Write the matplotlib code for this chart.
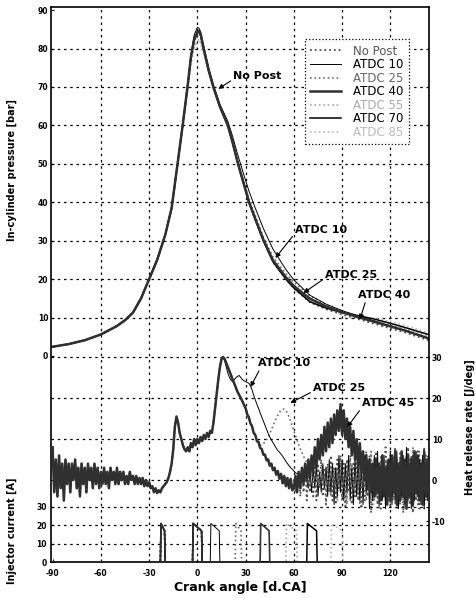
"""
In-cylinder pressure, heat release rate and injector current vs crank angle
for the no-post and post-injection (ATDC 10 ... 85) cases.
"""

import numpy as np
import matplotlib
matplotlib.use("Agg")
import matplotlib.pyplot as plt

# ---------------------------------------------------------------- data
case_labels = ['No Post', 'ATDC 10', 'ATDC 25', 'ATDC 40', 'ATDC 55', 'ATDC 70', 'ATDC 85']

# pressure [bar]
p_angle = [-90, -80, -70, -60, -50, -45, -40, -35, -30, -25, -20, -16, -12, -9,
           -6, -4, -2, 0, 1, 2, 4, 7, 10, 14, 19, 22, 25, 29, 32, 36, 41, 47,
           55, 60, 70, 80, 90, 100, 110, 120, 130, 145]
p_compression = [2.4, 3.1, 4.1, 5.6, 7.8, 9.3, 11.3, 15.0, 20.0, 25.0, 31.5, 38.5, 51.0, 60.5]
p_nopost = [70.5, 78.0, 82.5, 84.5, 84.8, 84.0, 80.0, 74.5, 70.0, 65.0, 60.0, 55.5, 50.5, 44.5,
            40.0, 35.5, 30.0, 24.5, 20.0, 17.6, 14.0, 12.2, 10.8, 9.6, 8.4, 7.2, 6.0, 3.9]
p_atdc10 = [70.8, 78.5, 83.5, 85.5, 85.3, 84.3, 80.5, 75.0, 70.5, 65.5, 61.0, 57.0, 52.5, 47.0,
            43.0, 38.5, 33.2, 27.8, 22.5, 19.8, 15.8, 13.5, 11.8, 10.4, 9.1, 7.8, 6.5, 4.4]
p_atdc25 = [70.2, 77.5, 81.8, 83.5, 84.0, 83.2, 79.5, 74.2, 69.8, 65.0, 60.0, 55.6, 50.8, 45.2,
            41.0, 36.5, 31.0, 25.8, 21.4, 19.2, 15.6, 13.3, 11.7, 10.4, 9.1, 7.9, 6.6, 4.5]
p_atdc40 = [70.5, 77.8, 82.3, 84.2, 84.6, 83.8, 79.8, 74.4, 69.9, 64.9, 59.9, 55.4, 50.4, 44.6,
            40.2, 35.7, 30.3, 24.9, 20.5, 18.2, 14.9, 12.9, 11.4, 10.1, 8.9, 7.7, 6.5, 4.4]
p_atdc55 = [69.5, 76.5, 80.5, 82.0, 82.3, 82.0, 79.0, 74.0, 69.6, 64.8, 59.8, 55.3, 50.3, 44.4,
            39.9, 35.4, 30.0, 24.5, 20.1, 17.8, 14.4, 12.8, 11.5, 10.3, 9.2, 8.1, 6.9, 5.0]
p_atdc70 = [70.3, 77.8, 82.2, 84.0, 84.3, 83.5, 79.7, 74.3, 69.9, 64.9, 59.9, 55.4, 50.4, 44.5,
            40.0, 35.5, 30.0, 24.5, 20.0, 17.7, 14.1, 12.5, 11.3, 10.5, 9.6, 8.5, 7.3, 5.4]
p_atdc85 = [69.2, 76.0, 80.0, 81.5, 81.8, 81.7, 78.5, 73.8, 69.5, 64.7, 59.8, 55.3, 50.3, 44.4,
            39.9, 35.4, 30.0, 24.5, 20.0, 17.6, 14.0, 12.2, 11.0, 10.2, 9.8, 9.0, 7.8, 5.9]

# heat release rate [J/deg], one value per degree from -90 to 145
hrr_angle = np.arange(-90, 146)
hrr_nopost = [
    8, -3, 5, -4, 6, -2, 4, -5, 5, -1, 4,                                   # -90..-80
    -3, 4, 0, 5, -2, 3, -4, 4, -1, 3, -3, 4, 0, 3, -2, 4, -1, 3, -2, 2,      # -79..-60
    -1, 3, -1, 2, -2, 3, 0, 2, -1, 3, -1, 2, 0, 2, -1, 1, -1, 2, 0, 1,       # -59..-40
    -1, 1, -1, 0.5, -1, 0.5, -1.5, 0, -1.5, -0.5,                            # -39..-30
    -2, -1.5, -3, -2, -3.2, -2.5, -3, -2, -1.5, -1,                          # -29..-20
    -0.5, 0.5, 2, 4, 7.5, 13, 15.5,                                          # -19..-13
    14, 11.5, 10, 8.5, 7.5, 7,                                               # -12..-7
    8, 7, 9, 8, 10, 8.5, 10, 9, 10.5, 9.5, 11, 10, 11.5, 10.5, 12, 11.5,     # -6..9
    14, 17.5, 21, 24.5, 27.5, 29.5, 30,                                      # 10..16
    29.5, 28.5, 27.5, 26.5, 25.5, 24.4, 23.5, 22.5, 21.5, 20.7, 20, 19.2, 18.3,
    17.5, 16, 15.3, 13.8, 13.1, 11.5, 11, 9.5, 9.3, 7.8, 7.6, 6.2, 6.2, 4.8, 5,
    3.5, 4, 2.4, 3, 1.3, 2.2, 0.3, 1.5, -0.8, 1, -1.5, 0.5, -2, 0.3, -2.5, 0,
    -3, 0.5,                                                                 # 17..62
    2, -4, 3, -3, 4, -5, 2, -3, 5, -4, 3, -5, 4, -2, 5, -4, 3, -6,           # 63..80
    4, -3, 6, -5, 3, -6, 5, -2, 6, -5, 4, -7, 5, -3, 6, -6, 4, -4, 7, -5,    # 81..100
    5, -7, 3, -5, 7, -4, 6, -8, 4, -5, 7, -6, 3, -7, 6, -4, 8, -6, 5, -7,    # 101..120
    6, -5, 8, -7, 4, -6, 7, -8, 5, -4, 8, -6, 6, -8, 4, -5, 7, -7, 5, -6,
    8, -5, 6, -7, 5,                                                         # 121..145
]
# post cases follow No Post until they split off
hrr_atdc10_from = 17
hrr_atdc10_tail = [
    29, 27.5, 26, 25, 24.3, 24, 24.5, 25, 25.3, 25.5, 25, 24.5, 24.2, 24, 23.8,
    23.6, 23, 22, 20.7, 19.6, 18.5, 17.5, 16.4, 15.4, 14.4, 13.4, 12.4, 11.4,
    10.5, 9.8, 9.1, 8.5, 7.8, 7.2, 6.8, 6.3, 5.8, 5.2, 4.6, 4, 3.5, 3, 2.6, 2.2,
    1.8, 1.5, 1.1, 0.8, 0.5, 0.2, 0, -0.3,                                   # 17..68
    -2, 2, -3, 3, -2, 4, -4, 2, -3, 4, -2, 3,                                # 69..80
    -4, 5, -3, 4, -6, 3, -4, 6, -3, 5, -5, 4, -3, 6, -5, 3, -6, 5, -4, 6,    # 81..100
    -5, 4, -6, 6, -3, 5, -7, 4, -5, 6, -4, 7, -6, 3, -5, 6, -7, 5, -4, 7,    # 101..120
    -6, 4, -5, 7, -7, 5, -4, 6, -6, 8, -5, 4, -7, 6, -5, 7, -4, 5, -6, 6,
    -7, 4, -5, 6, -4,                                                        # 121..145
]
hrr_atdc25_from = 38
hrr_atdc25_tail = [
    8.8, 8.5, 8.5, 8.8, 9.3, 9.8, 10.5, 11.3, 12.2, 13.2, 14.2, 15, 15.8, 16.5,
    17, 17.2, 17.3, 17, 16.3, 15.4, 14.3, 13.2, 12, 10.8, 9.7, 8.6, 7.6, 6.7,
    5.8, 5, 4.3, 3.6, 3, 2.4, 1.9, 1.4, 1, 0.6, 0.2, 0,                      # 38..77
    2, -2, 3, -3, 2, -4, 4, -2, 3, -5, 5, -3, 4, -4, 3, -6, 5, -2, 4, -5,
    6, -3, 4,                                                                # 78..100
    -6, 3, -4, 6, -5, 4, -3, 7, -6, 5, -4, 3, -7, 6, -4, 5, -6, 4, -5, 7,    # 101..120
    -4, 6, -6, 5, -3, 7, -5, 4, -7, 6, -4, 5, -6, 8, -5, 3, -6, 7, -4, 5,
    -7, 6, -3, 5, -6,                                                        # 121..145
]
hrr_atdc40_from = 60
hrr_atdc40_tail = [
    -2, 1, -3, 2, -2, 3, -1, 4, 0, 5,
    1, 6, 2, 8, 3, 10, 5, 11, 6, 13,
    7, 14, 8, 15, 9, 16, 11, 17, 12, 18.5,
    11, 17, 10, 15, 8, 13, 6, 12, 5, 10,
    3, 9, 2, 7, 0, 6, -2, 5, -3, 4,
    -4, 5, -3, 4, -5, 6, -4, 3, -6, 5,
    -5, 6, -3, 7, -6, 4, -5, 7, -4, 5,
    -7, 6, -4, 5, -6, 7, -3, 6, -5, 4,
    -6, 7, -4, 5, -5, 3,
]

# injector current [A]: pulse start / end crank angles
pilot_pulse = (-23, -20)
main_pulse = (-3, 3)
post_start = [None, 8, 23.5, 39, 55, 68, 83]
post_end = [None, 14, 27.5, 45, 62, 74.5, 90.5]
inj_peak = 21
inj_hold = 17

x_ticks = [-90, -60, -30, 0, 30, 60, 90, 120]
p_ticks = [0, 10, 20, 30, 40, 50, 60, 70, 80, 90]
hrr_ticks = [-10, 0, 10, 20, 30]
inj_ticks = [0, 10, 20, 30]

# line styles per case (grayscale like the scanned figure)
styles = [
    dict(color='#4d4d4d', ls=':', lw=1.3),
    dict(color='black', ls='-', lw=0.7),
    dict(color='#707070', ls=':', lw=1.2),
    dict(color='#303030', ls='-', lw=1.8),
    dict(color='#a8a8a8', ls=':', lw=1.2),
    dict(color='black', ls='-', lw=1.1),
    dict(color='#b8b8b8', ls=':', lw=1.2),
]
text_colors = ['#555555', 'black', '#666666', 'black', '#aaaaaa', 'black', '#bbbbbb']

GRID = dict(color='black', lw=0.9, ls=(0, (2, 3)), zorder=0.5)
TICKFONT = dict(fontsize=5.5, fontweight='bold')


def injector_trace(pulses):
    """Step-like injector current trace from (start, end) pulse list."""
    xs, ys = [-91], [0]
    for s, e in pulses:
        xs += [s, s + 0.4, e - 0.4, e]
        ys += [0, inj_peak, inj_hold, 0]
    xs.append(145)
    ys.append(0)
    return xs, ys


def main():
    fig = plt.figure(figsize=(4.76, 5.98), dpi=100)
    rect = [51 / 476, 36 / 598, 378 / 476, 555 / 598]

    ax_p = fig.add_axes(rect)
    ax_h = fig.add_axes(rect, sharex=ax_p, frameon=False)
    ax_i = fig.add_axes(rect, sharex=ax_p, frameon=False)
    for ax in (ax_h, ax_i):
        ax.patch.set_visible(False)
        ax.xaxis.set_visible(False)

    ax_p.set_xlim(-91, 144)
    ax_p.set_ylim(-53.6, 90.8)
    ax_h.set_ylim(-20, 115.4)
    ax_i.set_ylim(0, 302.7)

    # grid
    for xv in x_ticks[1:]:
        ax_p.axvline(xv, **GRID)
    for pv in p_ticks[1:-1]:
        ax_p.axhline(pv, **GRID)
    for hv in hrr_ticks[1:]:
        ax_h.axhline(hv, **GRID)
    for iv in inj_ticks[1:]:
        ax_i.axhline(iv, **GRID)

    # pressure
    p_cases = [p_nopost, p_atdc10, p_atdc25, p_atdc40, p_atdc55, p_atdc70, p_atdc85]
    lines = {}
    for k in [6, 4, 2, 0, 5, 1, 3]:
        ln, = ax_p.plot(p_angle, p_compression + p_cases[k], **styles[k], zorder=2)
        lines[k] = ln
    handles = [lines[k] for k in range(len(case_labels))]

    # heat release rate
    def with_tail(start, tail):
        idx = start - hrr_angle[0]
        return hrr_nopost[:idx] + tail

    hrr_cases = {
        0: hrr_nopost,
        1: with_tail(hrr_atdc10_from, hrr_atdc10_tail),
        2: with_tail(hrr_atdc25_from, hrr_atdc25_tail),
        3: with_tail(hrr_atdc40_from, hrr_atdc40_tail),
    }
    for k in [2, 1, 0, 3]:
        vals = hrr_cases[k]
        ax_h.plot(hrr_angle[:len(vals)], vals, **styles[k], zorder=2)

    # injector current
    for k in [6, 4, 2, 0, 5, 1, 3]:
        pulses = [pilot_pulse, main_pulse]
        if post_start[k] is not None:
            pulses.append((post_start[k], post_end[k]))
        xs, ys = injector_trace(pulses)
        st = dict(styles[k])
        st['lw'] = min(st['lw'], 1.2)
        ax_i.plot(xs, ys, **st, zorder=2)

    # axes / ticks
    for sp in ax_p.spines.values():
        sp.set_linewidth(1.2)
    ax_p.set_xticks(x_ticks)
    ax_p.set_xticklabels([str(v) for v in x_ticks], **TICKFONT)
    ax_p.set_yticks(p_ticks)
    ax_p.set_yticklabels([str(v) for v in p_ticks], **TICKFONT)
    ax_p.tick_params(direction='in', length=2.5, width=0.8, pad=2)
    ax_p.tick_params(axis='x', pad=5)

    ax_h.yaxis.tick_right()
    ax_h.set_yticks(hrr_ticks)
    ax_h.set_yticklabels([str(v) for v in hrr_ticks], **TICKFONT)
    ax_h.tick_params(axis='y', direction='in', length=2.5, width=0.8, pad=2)

    ax_i.set_yticks(inj_ticks)
    ax_i.set_yticklabels([str(v) for v in inj_ticks], **TICKFONT)
    ax_i.tick_params(axis='y', direction='in', length=2.5, width=0.8, pad=3)

    # axis titles
    lab = dict(fontweight='bold', ha='center', va='center')
    fig.text(12 / 476, 1 - 170 / 598, 'In-cylinder pressure [bar]', rotation=90, fontsize=7, **lab)
    fig.text(12 / 476, 1 - 531 / 598, 'Injector current [A]', rotation=90, fontsize=7, **lab)
    fig.text(470 / 476, 1 - 427 / 598, 'Heat release rate [J/deg]', rotation=90, fontsize=7, **lab)
    fig.text(240 / 476, 1 - 588 / 598, 'Crank angle [d.CA]', fontsize=9, **lab)

    # annotations
    arrow = dict(arrowstyle='-|>', color='black', lw=0.8, mutation_scale=7,
                 shrinkA=0, shrinkB=0)
    note = dict(fontsize=8, fontweight='bold', ha='left', va='center')
    ax_p.annotate('No Post', xy=(13, 69.5), xytext=(22.4, 72.8),
                  arrowprops=dict(arrow, relpos=(0, 0.2)), **note)
    ax_p.annotate('ATDC 10', xy=(48.5, 25.5), xytext=(60.9, 32.8),
                  arrowprops=dict(arrow, relpos=(0, 0.2)), **note)
    ax_p.annotate('ATDC 25', xy=(66, 16.4), xytext=(79.5, 21.1),
                  arrowprops=dict(arrow, relpos=(0, 0.2)), **note)
    ax_p.annotate('ATDC 40', xy=(101, 9.5), xytext=(100, 15.9),
                  arrowprops=dict(arrow, relpos=(0.15, 0)), **note)
    ax_h.annotate('ATDC 10', xy=(33, 22.7), xytext=(37.9, 28.5),
                  arrowprops=dict(arrow, relpos=(0.05, 0.1)), **note)
    ax_h.annotate('ATDC 25', xy=(57.8, 18.8), xytext=(72, 22.4),
                  arrowprops=dict(arrow, relpos=(0, 0.2)), **note)
    ax_h.annotate('ATDC 45', xy=(93.2, 12.9), xytext=(102.5, 18.8),
                  arrowprops=dict(arrow, relpos=(0, 0.1)), **note)

    # legend
    leg = ax_p.legend(handles, case_labels, loc='upper left',
                      bbox_to_anchor=(0.672, 0.942), fontsize=8.5,
                      frameon=True, fancybox=False, framealpha=1,
                      edgecolor='black', handlelength=2.6, labelspacing=0.05,
                      borderpad=0.45, handletextpad=1.0, borderaxespad=0)
    leg.get_frame().set_linestyle(':')
    leg.get_frame().set_linewidth(0.9)
    for txt, c in zip(leg.get_texts(), text_colors):
        txt.set_color(c)
    leg.set_zorder(5)

    fig.savefig('out.png', dpi=100)
    plt.close(fig)


if __name__ == "__main__":
    main()
